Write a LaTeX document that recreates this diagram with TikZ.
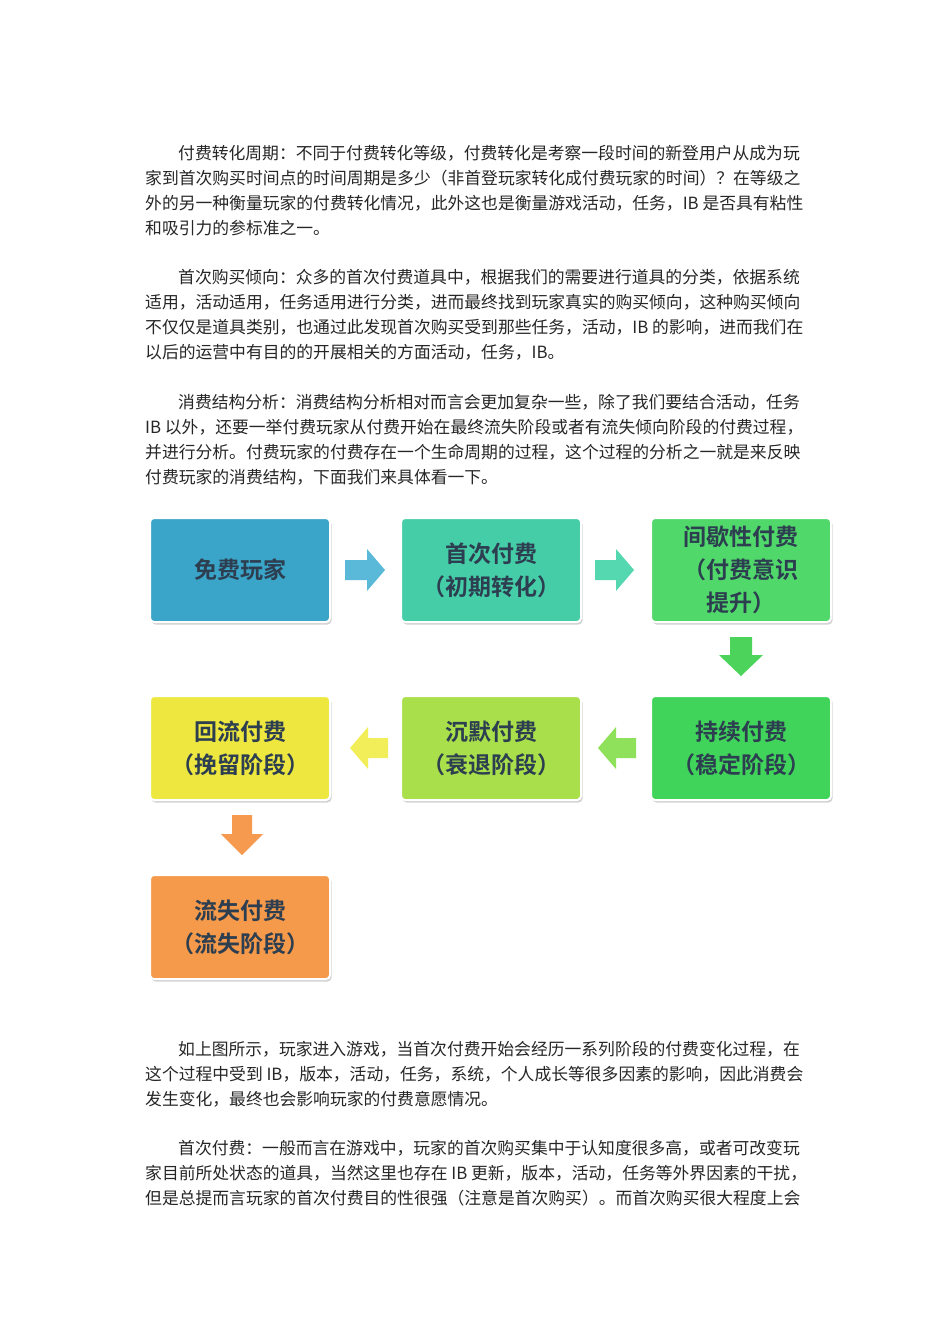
\documentclass[tikz,border=0pt]{standalone}
\usepackage{fontspec}
\usetikzlibrary{shadows}
\newfontfamily\cjk{Noto Sans CJK SC}
\newfontfamily\cjkb{Noto Sans CJK SC Bold}
\definecolor{c1}{HTML}{3AA5C8}
\definecolor{c2}{HTML}{45CDA8}
\definecolor{c3}{HTML}{50D86A}
\definecolor{c4}{HTML}{40D45A}
\definecolor{c5}{HTML}{A8DF4A}
\definecolor{c6}{HTML}{EDE740}
\definecolor{c7}{HTML}{F5994A}
\definecolor{a1c}{HTML}{5AB8D8}
\definecolor{a2c}{HTML}{55D8B0}
\definecolor{a3c}{HTML}{4CD35C}
\definecolor{a4c}{HTML}{8FE05A}
\definecolor{a5c}{HTML}{F2EE5A}
\definecolor{a6c}{HTML}{F59A4E}
\definecolor{tx}{HTML}{2C3E50}
\begin{document}
\begin{tikzpicture}[x=1pt,y=-1pt,
  ln/.style={anchor=west,inner sep=0pt,font=\cjk\fontsize{16.8}{20}\selectfont,text=black!85},
  stage/.style={draw=white,line width=2pt,rounded corners=4pt,minimum width=180pt,minimum height=104pt,
    align=center,font=\cjkb\fontsize{23}{33}\selectfont,text=tx,
    drop shadow={shadow xshift=1.5pt,shadow yshift=-2.5pt,opacity=0.35}},
  barrow/.style={draw=none}]
\fill[white] (0,0) rectangle (950,1344);
\useasboundingbox (0,0) rectangle (950,1344);
\node[ln] (p1a) at (178,153) {付费转化周期：不同于付费转化等级，付费转化是考察一段时间的新登用户从成为玩};
\node[ln] (p1b) at (145,178) {家到首次购买时间点的时间周期是多少（非首登玩家转化成付费玩家的时间）？在等级之};
\node[ln] (p1c) at (145,203) {外的另一种衡量玩家的付费转化情况，此外这也是衡量游戏活动，任务，IB 是否具有粘性};
\node[ln] (p1d) at (145,228) {和吸引力的参标准之一。};
\node[ln] (p2a) at (178,277) {首次购买倾向：众多的首次付费道具中，根据我们的需要进行道具的分类，依据系统};
\node[ln] (p2b) at (145,302) {适用，活动适用，任务适用进行分类，进而最终找到玩家真实的购买倾向，这种购买倾向};
\node[ln] (p2c) at (145,327) {不仅仅是道具类别，也通过此发现首次购买受到那些任务，活动，IB 的影响，进而我们在};
\node[ln] (p2d) at (145,352) {以后的运营中有目的的开展相关的方面活动，任务，IB。};
\node[ln] (p3a) at (178,402) {消费结构分析：消费结构分析相对而言会更加复杂一些，除了我们要结合活动，任务};
\node[ln] (p3b) at (145,427) {IB 以外，还要一举付费玩家从付费开始在最终流失阶段或者有流失倾向阶段的付费过程，};
\node[ln] (p3c) at (145,452) {并进行分析。付费玩家的付费存在一个生命周期的过程，这个过程的分析之一就是来反映};
\node[ln] (p3d) at (145,477) {付费玩家的消费结构，下面我们来具体看一下。};
\node[stage,fill=c1] (s1) at (240,570) {免费玩家};
\node[stage,fill=c2] (s2) at (491,570) {首次付费\\（初期转化）};
\node[stage,fill=c3] (s3) at (741,570) {间歇性付费\\（付费意识\\提升）};
\node[stage,fill=c4] (s4) at (741,748) {持续付费\\（稳定阶段）};
\node[stage,fill=c5] (s5) at (491,748) {沉默付费\\（衰退阶段）};
\node[stage,fill=c6] (s6) at (240,748) {回流付费\\（挽留阶段）};
\node[stage,fill=c7] (s7) at (240,927) {流失付费\\（流失阶段）};
% block arrows (drawn as shapes): right
\fill[a1c] (345,560) -- (367,560) -- (367,549) -- (385,570) -- (367,591) -- (367,580) -- (345,580) -- cycle;
\fill[a2c] (595,560) -- (616,560) -- (616,549) -- (634,570) -- (616,591) -- (616,580) -- (595,580) -- cycle;
% down
\fill[a3c] (730,637) -- (752,637) -- (752,655) -- (763,655) -- (741,676) -- (719,655) -- (730,655) -- cycle;
% left
\fill[a4c] (636,738) -- (616,738) -- (616,727) -- (598,748) -- (616,769) -- (616,758) -- (636,758) -- cycle;
\fill[a5c] (388,738) -- (368,738) -- (368,727) -- (350,748) -- (368,769) -- (368,758) -- (388,758) -- cycle;
% down orange
\fill[a6c] (232,815) -- (252,815) -- (252,834) -- (263,834) -- (242,855) -- (221,834) -- (232,834) -- cycle;
\node[ln] (p4a) at (178,1049) {如上图所示，玩家进入游戏，当首次付费开始会经历一系列阶段的付费变化过程，在};
\node[ln] (p4b) at (145,1074) {这个过程中受到 IB，版本，活动，任务，系统，个人成长等很多因素的影响，因此消费会};
\node[ln] (p4c) at (145,1099) {发生变化，最终也会影响玩家的付费意愿情况。};
\node[ln] (p5a) at (178,1148) {首次付费：一般而言在游戏中，玩家的首次购买集中于认知度很多高，或者可改变玩};
\node[ln] (p5b) at (145,1173) {家目前所处状态的道具，当然这里也存在 IB 更新，版本，活动，任务等外界因素的干扰，};
\node[ln] (p5c) at (145,1198) {但是总提而言玩家的首次付费目的性很强（注意是首次购买）。而首次购买很大程度上会};
\end{tikzpicture}
\end{document}
